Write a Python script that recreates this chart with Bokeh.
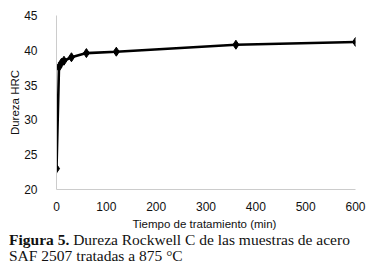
from bokeh.plotting import figure
from bokeh.models import ColumnDataSource, Div, FixedTicker
from bokeh.layouts import column
from bokeh.embed import file_html
from bokeh.resources import INLINE

tiempo = [0, 5, 10, 15, 30, 60, 120, 360, 600]
dureza = [23.0, 37.6, 38.2, 38.5, 39.0, 39.6, 39.8, 40.8, 41.2]
x_ticks = [0, 100, 200, 300, 400, 500, 600]
y_ticks = [20, 25, 30, 35, 40, 45]

src = ColumnDataSource(data=dict(t=tiempo, d=dureza))

p = figure(width=366, height=233, x_range=(0, 600), y_range=(20, 45),
           output_backend="svg", toolbar_location=None,
           min_border_left=56, min_border_right=11, min_border_top=15, min_border_bottom=44)
p.outline_line_color = None
p.xgrid.visible = False
p.ygrid.visible = False

p.line("t", "d", source=src, line_color="black", line_width=2.6)
p.scatter("t", "d", source=src, marker="diamond", size=9, color="black")

for ax in (p.xaxis, p.yaxis):
    ax.axis_line_color = "#cccccc"
    ax.major_tick_line_color = None
    ax.minor_tick_line_color = None
    ax.major_label_text_font = "Liberation Sans"
    ax.major_label_text_font_size = "12px"
    ax.major_label_text_color = "#111111"
    ax.axis_label_text_font = "Liberation Sans"
    ax.axis_label_text_font_size = "11.5px"
    ax.axis_label_text_font_style = "normal"
    ax.axis_label_text_color = "#111111"

p.xaxis.ticker = FixedTicker(ticks=x_ticks)
p.yaxis.ticker = FixedTicker(ticks=y_ticks)
p.xaxis.axis_label = "Tiempo de tratamiento  (min)"
p.yaxis.axis_label = "Dureza HRC"
p.xaxis.major_label_standoff = 6
p.yaxis.major_label_standoff = 13
p.xaxis.axis_label_standoff = 4
p.yaxis.axis_label_standoff = 0

cap = Div(text=('<div style="line-height:16px;margin:0;padding:0 0 0 4px;">'
                '<b>Figura 5.</b> Dureza Rockwell C de las muestras de acero<br>'
                'SAF 2507 tratadas a 875 °C</div>'),
          width=360, height=32,
          styles={"font-family": "Liberation Serif", "font-size": "15.5px", "line-height": "16px",
                  "color": "#111111", "margin-top": "-1px"})

layout = column(p, cap, spacing=0)
open("out.html", "w").write(file_html(layout, INLINE))
